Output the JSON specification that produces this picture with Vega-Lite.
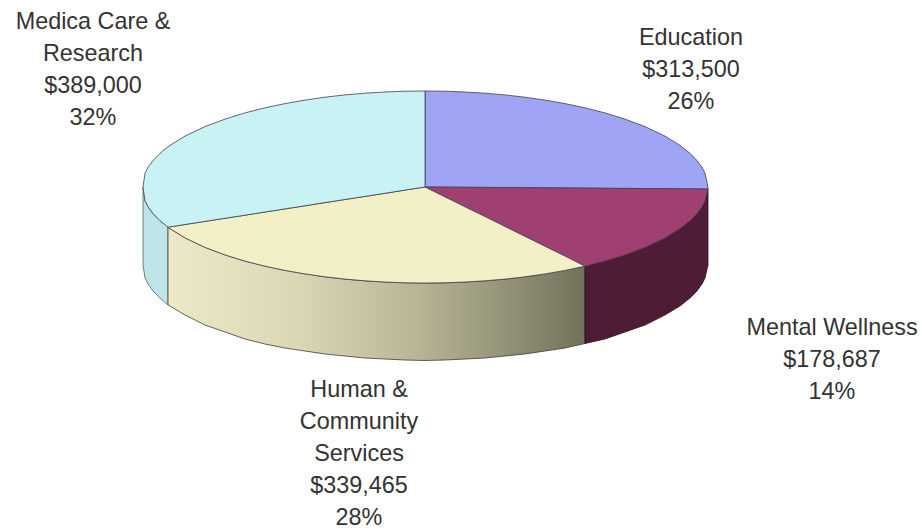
{
"$schema":"https://vega.github.io/schema/vega-lite/v6.json",
"width":922,"height":530,"padding":0,"autosize":{"type":"fit","contains":"padding"},
"background":"white","view":{"stroke":null},
"datasets":{
"sides":[
{"part":"Medica side","gx":143,"gy":187,"gy2":265},{"part":"Medica side","gx":145,"gy":200.9,"gy2":278},{"part":"Medica side","gx":148,"gy":206.7,"gy2":284},{"part":"Medica side","gx":153,"gy":213.5,"gy2":291},{"part":"Medica side","gx":160,"gy":220.7,"gy2":298},{"part":"Medica side","gx":168,"gy":227.2,"gy2":305},
{"part":"Human side","gx":168,"gy":227.2,"gy2":305},{"part":"Human side","gx":170,"gy":228.6,"gy2":306},{"part":"Human side","gx":185,"gy":237.9,"gy2":315},{"part":"Human side","gx":205,"gy":247.4,"gy2":325},{"part":"Human side","gx":225,"gy":254.9,"gy2":332},{"part":"Human side","gx":245,"gy":261.1,"gy2":339},{"part":"Human side","gx":265,"gy":266.2,"gy2":344},{"part":"Human side","gx":285,"gy":270.4,"gy2":348},{"part":"Human side","gx":305,"gy":273.9,"gy2":351},{"part":"Human side","gx":325,"gy":276.8,"gy2":354},{"part":"Human side","gx":345,"gy":279.1,"gy2":356},{"part":"Human side","gx":365,"gy":280.8,"gy2":358},{"part":"Human side","gx":385,"gy":282,"gy2":359},{"part":"Human side","gx":405,"gy":282.8,"gy2":360},{"part":"Human side","gx":425,"gy":283,"gy2":360.5},{"part":"Human side","gx":445,"gy":282.8,"gy2":360},{"part":"Human side","gx":465,"gy":282,"gy2":359},{"part":"Human side","gx":485,"gy":280.8,"gy2":358},{"part":"Human side","gx":505,"gy":279.1,"gy2":356},{"part":"Human side","gx":525,"gy":276.8,"gy2":354},{"part":"Human side","gx":545,"gy":273.9,"gy2":351},{"part":"Human side","gx":565,"gy":270.4,"gy2":348},{"part":"Human side","gx":585,"gy":266.2,"gy2":343.5},
{"part":"Mental side","gx":585,"gy":266.2,"gy2":343.5},{"part":"Mental side","gx":605,"gy":261.1,"gy2":339},{"part":"Mental side","gx":625,"gy":254.9,"gy2":332},{"part":"Mental side","gx":645,"gy":247.4,"gy2":325},{"part":"Mental side","gx":665,"gy":237.9,"gy2":315},{"part":"Mental side","gx":680,"gy":228.6,"gy2":306},{"part":"Mental side","gx":690,"gy":220.7,"gy2":298},{"part":"Mental side","gx":697,"gy":213.5,"gy2":291},{"part":"Mental side","gx":702,"gy":206.7,"gy2":284},{"part":"Mental side","gx":705,"gy":200.9,"gy2":278},{"part":"Mental side","gx":708,"gy":189,"gy2":265}
],
"tops":[
{"part":"Education","gx":425,"gy":91,"gy2":187},{"part":"Education","gx":445,"gy":91.2,"gy2":187.1},{"part":"Education","gx":465,"gy":92,"gy2":187.3},{"part":"Education","gx":485,"gy":93.2,"gy2":187.4},{"part":"Education","gx":505,"gy":94.9,"gy2":187.6},{"part":"Education","gx":525,"gy":97.2,"gy2":187.7},{"part":"Education","gx":545,"gy":100.1,"gy2":187.8},{"part":"Education","gx":565,"gy":103.6,"gy2":188},{"part":"Education","gx":585,"gy":107.8,"gy2":188.1},{"part":"Education","gx":605,"gy":112.9,"gy2":188.3},{"part":"Education","gx":625,"gy":119.1,"gy2":188.4},{"part":"Education","gx":645,"gy":126.6,"gy2":188.6},{"part":"Education","gx":665,"gy":136.1,"gy2":188.7},{"part":"Education","gx":680,"gy":145.4,"gy2":188.8},{"part":"Education","gx":690,"gy":153.3,"gy2":188.9},{"part":"Education","gx":697,"gy":160.5,"gy2":188.9},{"part":"Education","gx":702,"gy":167.3,"gy2":189},{"part":"Education","gx":705,"gy":173.1,"gy2":189},{"part":"Education","gx":708,"gy":187,"gy2":189},
{"part":"Mental Wellness","gx":425,"gy":187,"gy2":187},{"part":"Mental Wellness","gx":585,"gy":188.1,"gy2":266.2},{"part":"Mental Wellness","gx":605,"gy":188.3,"gy2":261.1},{"part":"Mental Wellness","gx":625,"gy":188.4,"gy2":254.9},{"part":"Mental Wellness","gx":645,"gy":188.6,"gy2":247.4},{"part":"Mental Wellness","gx":665,"gy":188.7,"gy2":237.9},{"part":"Mental Wellness","gx":680,"gy":188.8,"gy2":228.6},{"part":"Mental Wellness","gx":690,"gy":188.9,"gy2":220.7},{"part":"Mental Wellness","gx":697,"gy":188.9,"gy2":213.5},{"part":"Mental Wellness","gx":702,"gy":189,"gy2":206.7},{"part":"Mental Wellness","gx":705,"gy":189,"gy2":200.9},{"part":"Mental Wellness","gx":708,"gy":189,"gy2":189},
{"part":"Human","gx":168,"gy":227.2,"gy2":227.2},{"part":"Human","gx":170,"gy":226.9,"gy2":228.6},{"part":"Human","gx":185,"gy":224.5,"gy2":237.9},{"part":"Human","gx":205,"gy":221.4,"gy2":247.4},{"part":"Human","gx":225,"gy":218.3,"gy2":254.9},{"part":"Human","gx":245,"gy":215.2,"gy2":261.1},{"part":"Human","gx":265,"gy":212,"gy2":266.2},{"part":"Human","gx":285,"gy":208.9,"gy2":270.4},{"part":"Human","gx":305,"gy":205.8,"gy2":273.9},{"part":"Human","gx":325,"gy":202.6,"gy2":276.8},{"part":"Human","gx":345,"gy":199.5,"gy2":279.1},{"part":"Human","gx":365,"gy":196.4,"gy2":280.8},{"part":"Human","gx":385,"gy":193.3,"gy2":282},{"part":"Human","gx":405,"gy":190.1,"gy2":282.8},{"part":"Human","gx":425,"gy":187,"gy2":283},{"part":"Human","gx":445,"gy":196.9,"gy2":282.8},{"part":"Human","gx":465,"gy":206.8,"gy2":282},{"part":"Human","gx":485,"gy":216.6,"gy2":280.8},{"part":"Human","gx":505,"gy":226.5,"gy2":279.1},{"part":"Human","gx":525,"gy":236.4,"gy2":276.8},{"part":"Human","gx":545,"gy":246.3,"gy2":273.9},{"part":"Human","gx":565,"gy":256.1,"gy2":270.4},{"part":"Human","gx":585,"gy":266.2,"gy2":266.2},
{"part":"Medica","gx":143,"gy":187,"gy2":187},{"part":"Medica","gx":145,"gy":173.1,"gy2":200.9},{"part":"Medica","gx":148,"gy":167.3,"gy2":206.7},{"part":"Medica","gx":153,"gy":160.5,"gy2":213.5},{"part":"Medica","gx":160,"gy":153.3,"gy2":220.7},{"part":"Medica","gx":168,"gy":146.8,"gy2":227.2},{"part":"Medica","gx":170,"gy":145.4,"gy2":226.9},{"part":"Medica","gx":185,"gy":136.1,"gy2":224.5},{"part":"Medica","gx":205,"gy":126.6,"gy2":221.4},{"part":"Medica","gx":225,"gy":119.1,"gy2":218.3},{"part":"Medica","gx":245,"gy":112.9,"gy2":215.2},{"part":"Medica","gx":265,"gy":107.8,"gy2":212},{"part":"Medica","gx":285,"gy":103.6,"gy2":208.9},{"part":"Medica","gx":305,"gy":100.1,"gy2":205.8},{"part":"Medica","gx":325,"gy":97.2,"gy2":202.6},{"part":"Medica","gx":345,"gy":94.9,"gy2":199.5},{"part":"Medica","gx":365,"gy":93.2,"gy2":196.4},{"part":"Medica","gx":385,"gy":92,"gy2":193.3},{"part":"Medica","gx":405,"gy":91.2,"gy2":190.1},{"part":"Medica","gx":425,"gy":91,"gy2":187}
],
"labels":[
{"category":"Education","amount":313500,"share":26,"label":"Education\n$313,500\n26%","gx":691,"gy":45},
{"category":"Mental Wellness","amount":178687,"share":14,"label":"Mental Wellness\n$178,687\n14%","gx":832,"gy":335},
{"category":"Human & Community Services","amount":339465,"share":28,"label":"Human &\nCommunity\nServices\n$339,465\n28%","gx":359,"gy":397},
{"category":"Medica Care & Research","amount":389000,"share":32,"label":"Medica Care &\nResearch\n$389,000\n32%","gx":93,"gy":29}
]
},
"encoding":{
"x":{"field":"gx","type":"quantitative","scale":{"domain":[0,922],"nice":false,"zero":false},"axis":null},
"y":{"field":"gy","type":"quantitative","scale":{"domain":[530,0],"nice":false,"zero":false},"axis":null}
},
"layer":[
{"data":{"name":"sides"},"transform":[{"filter":"datum.part==='Medica side'"}],
 "mark":{"type":"area","color":"#bfe5e9","stroke":"#50606a","strokeWidth":0.8},
 "encoding":{"y2":{"field":"gy2"}}},
{"data":{"name":"sides"},"transform":[{"filter":"datum.part==='Human side'"}],
 "mark":{"type":"area","stroke":"#3c3c30","strokeWidth":0.8,
  "color":{"gradient":"linear","x1":0,"y1":0,"x2":1,"y2":0,"stops":[{"offset":0,"color":"#ede8c6"},{"offset":0.3,"color":"#dcd8b6"},{"offset":0.6,"color":"#b8b596"},{"offset":1,"color":"#72725c"}]}},
 "encoding":{"y2":{"field":"gy2"}}},
{"data":{"name":"sides"},"transform":[{"filter":"datum.part==='Mental side'"}],
 "mark":{"type":"area","color":"#4e1c34","stroke":"#2a1020","strokeWidth":0.8},
 "encoding":{"y2":{"field":"gy2"}}},
{"data":{"name":"tops"},
 "mark":{"type":"area","stroke":"#404050","strokeWidth":0.8},
 "encoding":{"y2":{"field":"gy2"},
  "color":{"field":"part","type":"nominal","legend":null,"scale":{"domain":["Medica","Human","Mental Wellness","Education"],"range":["#c8f2f4","#f3f0c8","#a04070","#a0a4f5"]}}}},
{"data":{"name":"labels"},
 "mark":{"type":"text","font":"Liberation Sans","fontSize":23.4,"lineHeight":32,"lineBreak":"\n","align":"center","baseline":"alphabetic","color":"#333333"},
 "encoding":{"text":{"field":"label"}}}
]
}
